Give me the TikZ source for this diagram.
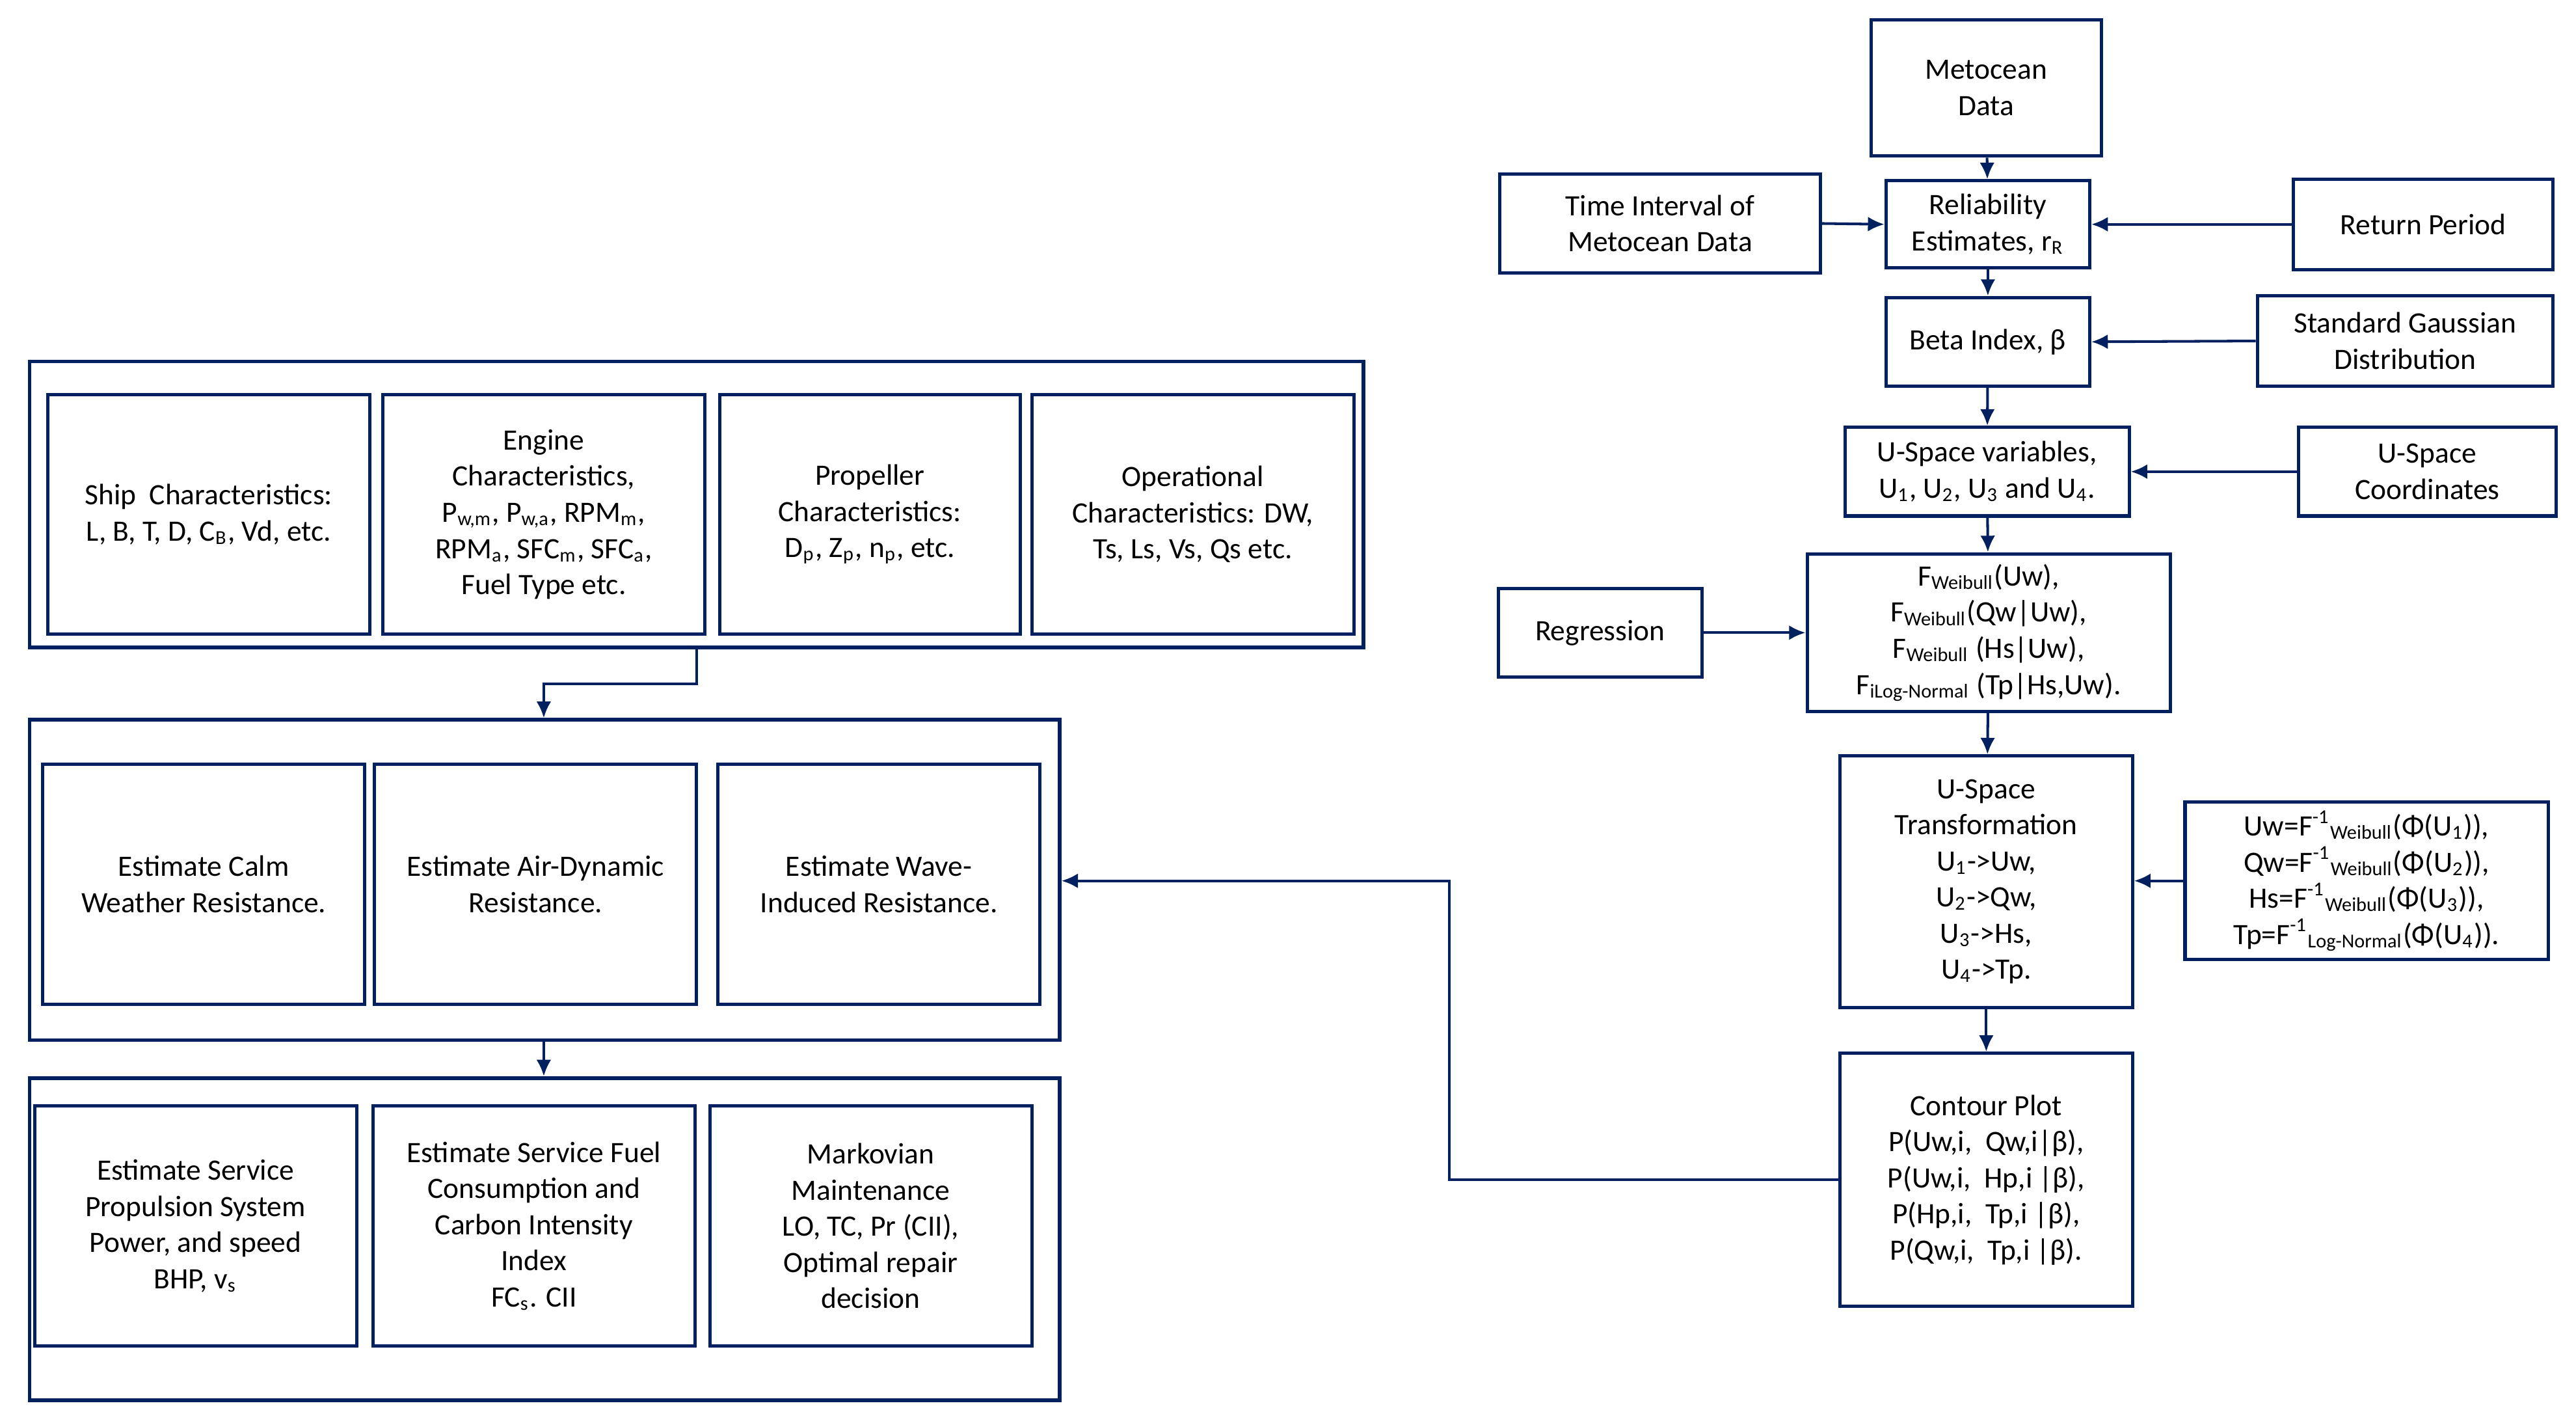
\documentclass[tikz,border=0pt]{standalone}
\usepackage{fontspec}
\setmainfont{Carlito}
\usetikzlibrary{arrows.meta}
\definecolor{navy}{RGB}{0,32,96}
\tikzset{bx/.style={draw=navy,line width=1pt,inner sep=0pt,align=center,font=\fontsize{9}{11}\selectfont},
outer/.style={draw=navy,line width=1.1pt,inner sep=0pt},
arr/.style={draw=navy,line width=0.8pt,-{Latex[length=5pt,width=4.5pt]}}}
\newcommand\bx[6]{\node[bx,minimum width={(#4-#2)*0.5pt},minimum height={(#5-#3)*0.5pt}] (#1) at ({(#2+#4)/2},{(#3+#5)/2}) {#6};}
\newcommand\ob[5]{\node[outer,minimum width={(#4-#2)*0.5pt},minimum height={(#5-#3)*0.5pt}] (#1) at ({(#2+#4)/2},{(#3+#5)/2}) {};}
\newcommand\sub[1]{\textsubscript{#1}}
\newcommand\sps[1]{\textsuperscript{#1}}
\begin{document}
\begin{tikzpicture}[x=0.5pt,y=-0.5pt]
\useasboundingbox (0,0) rectangle (1568,867);
% right column
\bx{met}{1139}{12}{1279}{95}{Metocean\\Data}
\bx{tim}{913}{106}{1108}{166}{Time Interval of\\Metocean Data}
\bx{rel}{1148}{110}{1272}{163}{Reliability\\Estimates, r\sub{R}}
\bx{ret}{1396}{109}{1554}{164}{Return Period}
\bx{bet}{1148}{181}{1272}{235}{Beta Index, β}
\bx{gau}{1374}{180}{1554}{235}{Standard Gaussian\\Distribution}
\bx{uva}{1123}{260}{1296}{314}{U-Space variables,\\U\sub{1}, U\sub{2}, U\sub{3} and U\sub{4}.}
\bx{uco}{1399}{260}{1556}{314}{U-Space\\Coordinates}
\bx{reg}{912}{358}{1036}{412}{Regression}
\bx{fw}{1100}{337}{1321}{433}{F\sub{Weibull}(Uw),\\F\sub{Weibull}(Qw|Uw),\\F\sub{Weibull} (Hs|Uw),\\F\sub{iLog-Normal} (Tp|Hs,Uw).}
\bx{ut}{1120}{460}{1298}{613}{U-Space\\Transformation\\U\sub{1}->Uw,\\U\sub{2}->Qw,\\U\sub{3}->Hs,\\U\sub{4}->Tp.}
\bx{for}{1330}{488}{1551}{584}{Uw=F\sps{-1}\sub{Weibull}(Φ(U\sub{1})),\\Qw=F\sps{-1}\sub{Weibull}(Φ(U\sub{2})),\\Hs=F\sps{-1}\sub{Weibull}(Φ(U\sub{3})),\\Tp=F\sps{-1}\sub{Log-Normal}(Φ(U\sub{4})).}
\bx{con}{1120}{641}{1298}{795}{Contour Plot\\P(Uw,i,\ \ Qw,i|β),\\P(Uw,i,\ \ Hp,i |β),\\P(Hp,i,\ \ Tp,i |β),\\P(Qw,i,\ \ Tp,i |β).}
% left groups
\ob{g1}{18}{220}{830}{394}
\bx{a1}{29}{240}{225}{386}{Ship\ \ Characteristics:\\L, B, T, D, C\sub{B}, Vd, etc.}
\bx{a2}{233}{240}{429}{386}{Engine\\Characteristics,\\P\sub{w,m}, P\sub{w,a}, RPM\sub{m},\\RPM\sub{a}, SFC\sub{m}, SFC\sub{a},\\Fuel Type etc.}
\bx{a3}{438}{240}{621}{386}{Propeller\\Characteristics:\\D\sub{p}, Z\sub{p}, n\sub{p}, etc.}
\bx{a4}{628}{240}{824}{386}{Operational\\Characteristics: DW,\\Ts, Ls, Vs, Qs etc.}
\ob{g2}{18}{438}{645}{633}
\bx{b1}{26}{465}{222}{611}{Estimate Calm\\Weather Resistance.}
\bx{b2}{228}{465}{424}{611}{Estimate Air-Dynamic\\Resistance.}
\bx{b3}{437}{465}{633}{611}{Estimate Wave-\\Induced Resistance.}
\ob{g3}{18}{656}{645}{852}
\bx{c1}{21}{673}{217}{819}{Estimate Service\\Propulsion System\\Power, and speed\\BHP, v\sub{s}}
\bx{c2}{227}{673}{423}{819}{Estimate Service Fuel\\Consumption and\\Carbon Intensity\\Index\\FC\sub{s}. CII}
\bx{c3}{432}{673}{628}{819}{Markovian\\Maintenance\\LO, TC, Pr (CII),\\Optimal repair\\decision}
% connectors
\draw[arr] (met) -- (rel);
\draw[arr] (tim.east) -- (rel.west);
\draw[arr] (ret.west) -- (rel.east);
\draw[arr] (rel) -- (bet);
\draw[arr] (gau.west) -- (bet.east);
\draw[arr] (bet) -- (uva);
\draw[arr] (uco.west) -- (uva.east);
\draw[arr] (uva) -- (fw);
\draw[arr] (reg.east) -- (reg.east -| fw.west);
\draw[arr] (fw) -- (ut);
\draw[arr] (for.west) -- (for.west -| ut.east);
\draw[arr] (ut) -- (con);
\coordinate (k1) at (882,718);
\coordinate (k2) at (882,536);
\draw[arr] (con.west |- k1) -- (k1) -- (k2) -- (g2.east |- k2);
\coordinate (j1) at (424,416);
\coordinate (j2) at (331,416);
\draw[arr] (g1.south -| j1) -- (j1) -- (j2) -- (g2.north -| j2);
\draw[arr] (g2.south -| j2) -- (g3.north -| j2);
\end{tikzpicture}
\end{document}
